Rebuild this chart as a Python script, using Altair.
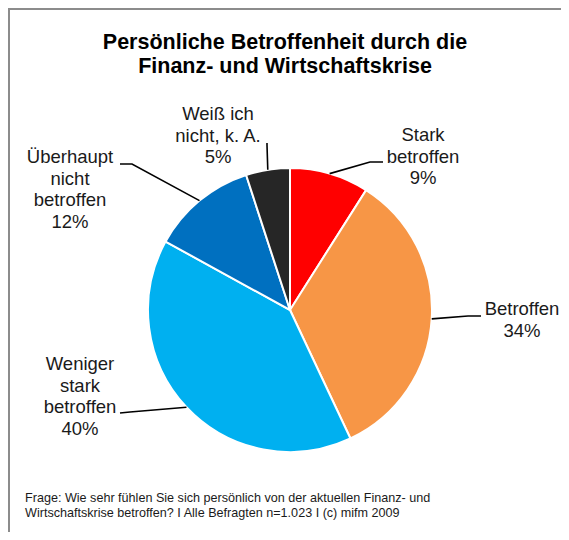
import math
import altair as alt
import pandas as pd

# ---------------- data ----------------
categories = [
    "Stark betroffen",
    "Betroffen",
    "Weniger stark betroffen",
    "Überhaupt nicht betroffen",
    "Weiß ich nicht, k. A.",
]
values = [9, 34, 40, 12, 5]
label_texts = [
    "Stark\nbetroffen",
    "Betroffen",
    "Weniger\nstark\nbetroffen",
    "Überhaupt\nnicht\nbetroffen",
    "Weiß ich\nnicht, k. A.",
]
colors = ["#FF0000", "#F79646", "#00B0F0", "#0070C0", "#262626"]
title_lines = ["Persönliche Betroffenheit durch die", "Finanz- und Wirtschaftskrise"]
footnote_lines = [
    "Frage: Wie sehr fühlen Sie sich persönlich von der aktuellen Finanz- und",
    "Wirtschaftskrise betroffen? I  Alle Befragten n=1.023 I (c) mifm 2009",
]

# ---------------- layout (px, plot coordinates) ----------------
W, H = 553, 524
CX, CY, R = 282, 302, 142
FONT = "Liberation Sans"
label_pos = [(415, 133), (514, 307), (72, 362), (62, 155), (210, 112)]
leader_mid = [(362, 154), (460, 308), (122, 404), (124, 156), (259, 137)]
leader_end = [(375, 154), (473, 308), (112, 405), (112, 156), (259, 135)]

# ---------------- derived tables ----------------
total = sum(values)
slices = pd.DataFrame({"cat": categories, "value": values, "idx": list(range(len(values)))})

rows_lbl = []
rows_lead = []
cum = 0.0
for i, (c, v) in enumerate(zip(categories, values)):
    mid = (cum + v / 2) / total * 2 * math.pi
    cum += v
    ex = CX + R * math.sin(mid)
    ey = CY - R * math.cos(mid)
    rows_lbl.append({"cat": c, "text": f"{label_texts[i]}\n{v}%",
                     "px": label_pos[i][0], "py": label_pos[i][1]})
    for s, (px, py) in enumerate([(ex, ey), leader_mid[i], leader_end[i]]):
        rows_lead.append({"cat": c, "step": s, "px": px, "py": py})
labels = pd.DataFrame(rows_lbl)
leaders = pd.DataFrame(rows_lead)

frame = alt.Chart(pd.DataFrame({"a": [0]})).mark_rect(
    fill=None, stroke="#8c8c8c", strokeWidth=2
).encode(x=alt.value(1), y=alt.value(1), x2=alt.value(900), y2=alt.value(900))

title = alt.Chart(pd.DataFrame({"t": ["\n".join(title_lines)]})).mark_text(
    font=FONT, fontSize=21.5, fontWeight="bold", align="center", baseline="alphabetic",
    lineBreak="\n", lineHeight=24, color="black"
).encode(text="t:N", x=alt.value(277), y=alt.value(41))

foot = alt.Chart(pd.DataFrame({"t": ["\n".join(footnote_lines)]})).mark_text(
    font=FONT, fontSize=12.6, align="left", baseline="alphabetic",
    lineBreak="\n", lineHeight=15, color="#1a1a1a"
).encode(text="t:N", x=alt.value(17), y=alt.value(494))

pie = alt.Chart(slices).mark_arc(outerRadius=R, stroke="white", strokeWidth=2).encode(
    theta=alt.Theta("value:Q", stack=True),
    order=alt.Order("idx:Q"),
    color=alt.Color("cat:N", scale=alt.Scale(domain=categories, range=colors), legend=None),
    x=alt.value(CX),
    y=alt.value(CY),
)

lead = alt.Chart(leaders).mark_line(color="black", strokeWidth=1.6).encode(
    x=alt.X("px:Q", scale=None),
    y=alt.Y("py:Q", scale=None),
    detail="cat:N",
    order="step:Q",
)

txt = alt.Chart(labels).mark_text(
    font=FONT, fontSize=18.5, align="center", baseline="alphabetic",
    lineBreak="\n", lineHeight=21.5, color="#1a1a1a"
).encode(
    x=alt.X("px:Q", scale=None),
    y=alt.Y("py:Q", scale=None),
    text="text:N",
)

chart = alt.layer(frame, title, foot, pie, lead, txt).properties(
    width=W, height=H, autosize=alt.AutoSizeParams(type="none"), padding=0,
    background="white",
).configure_view(strokeWidth=0)

chart.save("out.html", embed_options={"renderer": "svg", "actions": False})
